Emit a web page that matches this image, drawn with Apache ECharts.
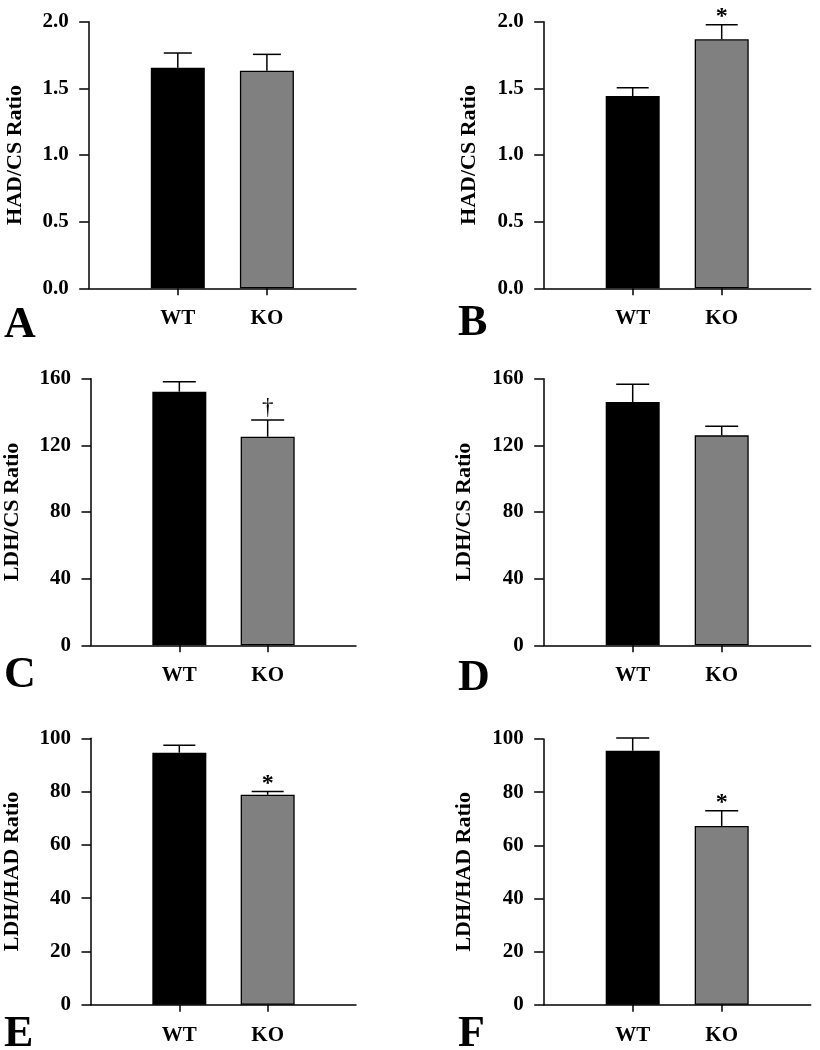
<!DOCTYPE html>
<html>
<head>
<meta charset="utf-8">
<script src="https://cdn.jsdelivr.net/npm/echarts@6/dist/echarts.min.js"></script>
<style>
  html, body { margin: 0; padding: 0; background: #fff; }
  #chart { width: 820px; height: 1050px; }
</style>
</head>
<body>
<div id="chart"></div>
<script>
// ---------- data ----------
var groups = ['WT', 'KO'];

var panelLetters = ['A', 'B', 'C', 'D', 'E', 'F'];
var yTitles = ['HAD/CS Ratio', 'HAD/CS Ratio', 'LDH/CS Ratio', 'LDH/CS Ratio', 'LDH/HAD Ratio', 'LDH/HAD Ratio'];

var meanA = [1.655, 1.632];  var semA = [0.110, 0.123];  var sigA = ['', ''];
var meanB = [1.442, 1.868];  var semB = [0.063, 0.109];  var sigB = ['', '*'];
var meanC = [152.2, 125.2];  var semC = [6.0, 10.0];     var sigC = ['', '\u2020'];
var meanD = [146.0, 126.0];  var semD = [10.6, 5.4];     var sigD = ['', ''];
var meanE = [94.6, 78.8];    var semE = [2.8, 1.2];      var sigE = ['', '*'];
var meanF = [95.6, 67.3];    var semF = [4.8, 5.7];      var sigF = ['', '*'];

var yMin = [0, 0, 0, 0, 0, 0];
var yMax = [2.0, 2.0, 160, 160, 100, 100];
var yStep = [0.5, 0.5, 40, 40, 20, 20];
var yDecimals = [1, 1, 0, 0, 0, 0];

// ---------- layout / style ----------
var SERIF = "'Liberation Serif', 'Times New Roman', serif";
var barColors = ['#000000', '#808080'];
var grids = [
  { left: 88.7,  top: 21.7,  width: 267.3, height: 266.6 },
  { left: 543.7, top: 21.7,  width: 267.0, height: 266.6 },
  { left: 88.7,  top: 378.7, width: 267.3, height: 266.6 },
  { left: 543.7, top: 378.7, width: 267.0, height: 266.6 },
  { left: 88.7,  top: 738.3, width: 267.3, height: 266.4 },
  { left: 543.7, top: 739.0, width: 267.0, height: 265.7 }
];
var nameGaps = [62, 63.5, 68, 68, 68, 68];
var capWidths = [28, 32, 33, 33, 32, 33];
var letterPos = [
  { left: 4, top: 304 }, { left: 458, top: 302 },
  { left: 4, top: 654 }, { left: 458, top: 657 },
  { left: 4, top: 1013 }, { left: 458, top: 1013 }
];

var means = [meanA, meanB, meanC, meanD, meanE, meanF];
var sems = [semA, semB, semC, semD, semE, semF];
var sigs = [sigA, sigB, sigC, sigD, sigE, sigF];

var categories = [''].concat(groups).concat(['']);

var option = {
  animation: false,
  backgroundColor: '#ffffff',
  title: [],
  grid: [],
  xAxis: [],
  yAxis: [],
  series: []
};

for (var k = 0; k < 6; k++) {
  var g = grids[k];
  option.grid.push({ left: g.left, top: g.top, width: g.width, height: g.height, containLabel: false });
  option.title.push({
    text: panelLetters[k], left: letterPos[k].left, top: letterPos[k].top, padding: 0,
    textStyle: { fontFamily: SERIF, fontWeight: 'bold', fontSize: 44, color: '#000' }
  });
  option.xAxis.push({
    type: 'category', gridIndex: k, data: categories, boundaryGap: false,
    axisLine: { show: true, onZero: false, lineStyle: { color: '#000', width: 1.5 } },
    axisTick: { show: true, inside: false, length: 7, lineStyle: { color: '#000', width: 1.5 },
      interval: function (i, v) { return v !== ''; } },
    axisLabel: { show: true, margin: 20, color: '#000', fontFamily: SERIF, fontWeight: 'bold', fontSize: 21,
      interval: function (i, v) { return v !== ''; } },
    splitLine: { show: false }
  });
  (function (dec) {
    option.yAxis.push({
      type: 'value', gridIndex: k, min: yMin[k], max: yMax[k], interval: yStep[k],
      name: yTitles[k], nameLocation: 'middle', nameGap: nameGaps[k], nameRotate: 90,
      nameTextStyle: { fontFamily: SERIF, fontWeight: 'bold', fontSize: 22, color: '#000' },
      axisLine: { show: true, lineStyle: { color: '#000', width: 1.5 } },
      axisTick: { show: true, inside: false, length: 9.5, lineStyle: { color: '#000', width: 1.5 } },
      axisLabel: { show: true, margin: 20, color: '#000', fontFamily: SERIF, fontWeight: 'bold', fontSize: 21,
        formatter: function (v) { return Number(v).toFixed(dec); } },
      splitLine: { show: false }
    });
  })(yDecimals[k]);

  var barData = [];
  var errData = [];
  for (var i = 0; i < groups.length; i++) {
    barData.push({ value: [groups[i], means[k][i]],
      itemStyle: { color: barColors[i], borderColor: '#000', borderWidth: 1.3 } });
    errData.push([groups[i], means[k][i], means[k][i] + sems[k][i]]);
  }
  option.series.push({
    type: 'bar', xAxisIndex: k, yAxisIndex: k, barWidth: 54, data: barData, z: 2
  });
  (function (sig, cap) {
    option.series.push({
      type: 'custom', xAxisIndex: k, yAxisIndex: k, z: 3, data: errData,
      encode: { x: 0, y: 1 },
      renderItem: function (params, api) {
        var x = api.value(0), m = api.value(1), t = api.value(2);
        var p0 = api.coord([x, m]);
        var p1 = api.coord([x, t]);
        var st = { stroke: '#000', lineWidth: 1.5 };
        var children = [
          { type: 'line', shape: { x1: p0[0], y1: p0[1], x2: p1[0], y2: p1[1] }, style: st },
          { type: 'line', shape: { x1: p1[0] - cap / 2, y1: p1[1], x2: p1[0] + cap / 2, y2: p1[1] }, style: st }
        ];
        var mark = sig[params.dataIndex];
        if (mark) {
          var isStar = mark === '*';
          children.push({
            type: 'text',
            style: {
              text: mark, x: p1[0], y: isStar ? p1[1] + 4 : p1[1] - 1,
              align: 'center', verticalAlign: 'bottom',
              font: (isStar ? 'bold 24px ' : 'normal 23px ') + SERIF, fill: '#000'
            }
          });
        }
        return { type: 'group', children: children };
      }
    });
  })(sigs[k], capWidths[k]);
}

var chart = echarts.init(document.getElementById('chart'), null, { renderer: 'canvas' });
chart.setOption(option);
</script>
</body>
</html>
